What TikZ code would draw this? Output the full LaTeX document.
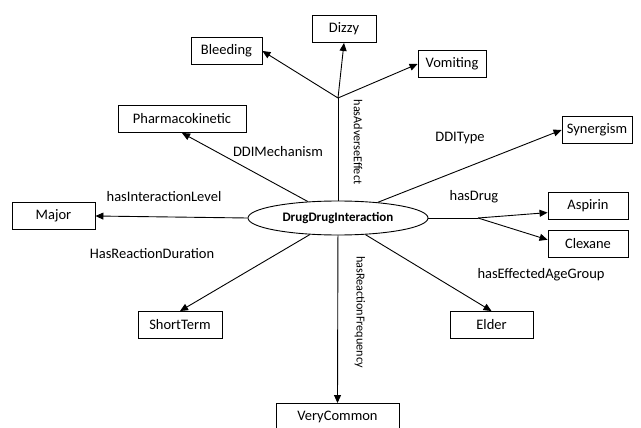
\documentclass[tikz,border=0pt]{standalone}
\usepackage{fontspec}
\setmainfont{Carlito}
\usetikzlibrary{shapes.geometric,arrows.meta}

\begin{document}
\begin{tikzpicture}[x=1pt, y=-1pt,
	box/.style={draw, line width=0.9pt, minimum height=27, minimum width=#1, inner sep=0pt, font=\fontsize{14.5}{17}\selectfont},
	lbl/.style={inner sep=0pt, font=\fontsize{14.5}{17}\selectfont},
	vlbl/.style={inner sep=0pt, rotate=-90, font=\fontsize{12.2}{14}\selectfont},
	rel/.style={line width=0.9pt, -{Triangle[length=8pt,width=7pt]}}]
	\useasboundingbox (0, 0) rectangle (641, 428);

	\node[draw, ellipse, line width=0.9pt, minimum width=180, minimum height=34, inner sep=0pt, font=\bfseries\fontsize{13}{15}\selectfont] (ddi) at (338, 218) {DrugDrugInteraction};

	\node[box=83] (major) at (53.5, 216) {Major};
	\node[box=128] (pk) at (182, 119) {Pharmacokinetic};
	\node[box=71] (bleed) at (226.5, 51) {Bleeding};
	\node[box=64] (dizzy) at (344, 29) {Dizzy};
	\node[box=68] (vom) at (452, 64) {Vomiting};
	\node[box=70] (syn) at (597, 130) {Synergism};
	\node[box=80] (asp) at (588, 205.5) {Aspirin};
	\node[box=80] (clx) at (588, 244) {Clexane};
	\node[box=83] (elder) at (491.5, 325) {Elder};
	\node[box=84] (st) at (180, 325) {ShortTerm};
	\node[box=123] (vc) at (337.5, 417) {VeryCommon};

	\coordinate (ae) at (338, 98);
	\coordinate (dj) at (478, 218);

	% adverse effects
	\draw[line width=0.9pt] (ddi) -- (ae);
	\draw[rel] (ae) -- (bleed.east);
	\draw[rel] (ae) -- (dizzy.south);
	\draw[rel] (ae) -- (vom.west);

	% drugs
	\draw[line width=0.9pt] (ddi.east) -- (dj);
	\draw[rel] (dj) -- (asp.190);
	\draw[rel] (dj) -- (clx.174);

	\draw[rel] (ddi) -- (pk.south);
	\draw[rel] (ddi.west) -- (major.east);
	\draw[rel] (ddi) -- (st.north);
	\draw[rel] (ddi) -- (elder.north);
	\draw[rel] (ddi) -- (syn.west);
	\draw[rel] (ddi) -- (vc.north);

	\node[lbl] (lmech) at (278, 152) {DDIMechanism};
	\node[lbl] (llevel) at (164, 197) {hasInteractionLevel};
	\node[lbl] (ldur) at (152, 254) {HasReactionDuration};
	\node[lbl] (ltype) at (460, 138) {DDIType};
	\node[lbl] (ldrug) at (474, 197) {hasDrug};
	\node[lbl] (lage) at (541, 275) {hasEffectedAgeGroup};
	\node[vlbl] (ladv) at (358, 142) {hasAdverseEffect};
	\node[vlbl] (lfreq) at (360, 312) {hasReactionFrequency};
\end{tikzpicture}
\end{document}
